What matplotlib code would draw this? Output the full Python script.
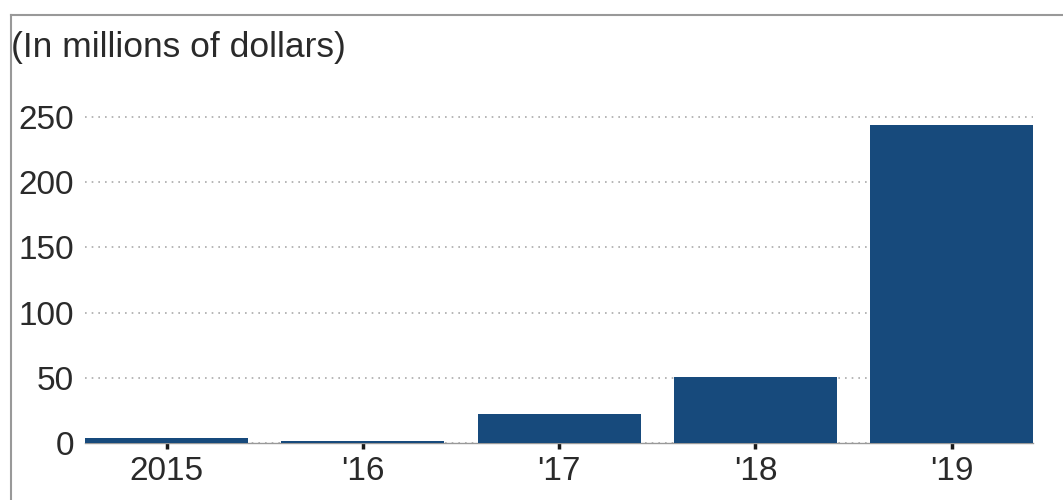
import matplotlib
matplotlib.use('Agg')
import matplotlib.pyplot as plt
from matplotlib.lines import Line2D

plt.rcParams['font.family'] = ['Liberation Sans', 'DejaVu Sans']

years = ["2015", "'16", "'17", "'18", "'19"]
values = [4, 1.5, 22, 51, 244]
yticks = [0, 50, 100, 150, 200, 250]

fig = plt.figure(figsize=(10.63, 5.0), dpi=100)
ax = fig.add_axes([0.08, 0.114, 0.892, 0.678])

x = range(len(years))
ax.bar(x, values, width=0.83, color='#174a7c', zorder=3)

ax.set_xlim(-0.415, len(years) - 1 + 0.415)
ax.set_ylim(0, 260)
ax.set_xticks(list(x))
ax.set_xticklabels(years)
ax.set_yticks(yticks)
ax.tick_params(axis='x', length=4, width=2.5, color='#1a1a1a', pad=5,
               labelsize=24, labelcolor='#2a2a2a')
ax.tick_params(axis='y', length=0, pad=8, labelsize=24, labelcolor='#2a2a2a')

ax.yaxis.grid(True, linestyle=(0, (1, 3)), color='#aaaaaa', linewidth=1.2, zorder=0)
for s in ['top', 'right', 'left']:
    ax.spines[s].set_visible(False)
ax.spines['bottom'].set_color('#999999')
ax.spines['bottom'].set_linewidth(1)
ax.spines['bottom'].set_zorder(2)

fig.text(0.01, 0.905, "(In millions of dollars)", fontsize=25.5, color='#2a2a2a',
         ha='left', va='center')

# frame lines
fig.add_artist(Line2D([0.0105, 1.0], [0.97, 0.97], color='#999999', linewidth=1.5))
fig.add_artist(Line2D([0.0105, 0.0105], [0.0, 0.97], color='#999999', linewidth=1.5))

fig.savefig('out.png', dpi=100)
